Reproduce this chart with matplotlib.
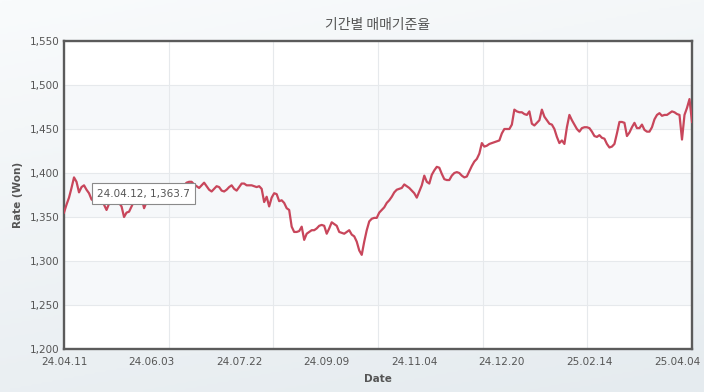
import numpy as np
import matplotlib
matplotlib.use('Agg')
import matplotlib.pyplot as plt
from matplotlib.colors import LinearSegmentedColormap

# 일별 매매기준율 (원/달러), 24.04.11 ~ 25.04.11 영업일 기준
rates = [
    1355, 1364, 1372, 1383, 1395, 1390, 1378, 1384, 1386, 1381,
    1377, 1370, 1368, 1372, 1366, 1370, 1364, 1358, 1365, 1371,
    1368, 1372, 1366, 1362, 1350, 1355, 1356, 1362, 1368, 1370,
    1366, 1372, 1360, 1367, 1370, 1373, 1376, 1378, 1375, 1380,
    1377, 1382, 1379, 1384, 1380, 1385, 1382, 1387, 1386, 1389,
    1390, 1390, 1387, 1385, 1383, 1386, 1389, 1385, 1381, 1379,
    1382, 1385, 1384, 1380, 1379, 1381, 1384, 1386, 1382, 1380,
    1384, 1388, 1388, 1386, 1386, 1386, 1385, 1384, 1385, 1382,
    1367, 1373, 1362, 1372, 1377, 1376, 1368, 1369, 1366, 1360,
    1358, 1339, 1333, 1333, 1334, 1339, 1324, 1331, 1333, 1335,
    1335, 1337, 1340, 1341, 1340, 1331, 1337, 1344, 1342, 1340,
    1333, 1332, 1331, 1333, 1335, 1330, 1328, 1322, 1312, 1307,
    1322, 1335, 1345, 1348, 1349, 1349, 1355, 1358, 1361, 1366,
    1369, 1373, 1378, 1381, 1382, 1383, 1387, 1385, 1383, 1380,
    1377, 1372, 1379, 1386, 1397, 1390, 1388, 1398, 1403, 1407,
    1406, 1399, 1393, 1392, 1392, 1397, 1400, 1401, 1400, 1397,
    1395, 1396, 1402, 1408, 1413, 1416, 1422, 1434, 1430, 1431,
    1433, 1434, 1435, 1436, 1437, 1445, 1450, 1450, 1450, 1455,
    1472, 1470, 1469, 1469, 1467, 1466, 1470, 1456, 1454, 1457,
    1460, 1472, 1464, 1460, 1456, 1455, 1450, 1441, 1434, 1437,
    1433, 1452, 1466, 1460, 1455, 1450, 1447, 1451, 1452, 1452,
    1451, 1447, 1442, 1441, 1443, 1440, 1439, 1433, 1429, 1430,
    1433, 1445, 1458, 1458, 1457, 1442, 1446, 1452, 1457, 1451,
    1451, 1455, 1449, 1447, 1447, 1452, 1461, 1466, 1468, 1465,
    1466, 1466, 1468, 1470, 1469, 1467, 1466, 1438, 1466, 1474,
    1484, 1458,
]
date_labels = ['24.04.11', '24.06.03', '24.07.22', '24.09.09',
               '24.11.04', '24.12.20', '25.02.14', '25.04.04']
label_step = 35
y_ticks = [1200, 1250, 1300, 1350, 1400, 1450, 1500, 1550]
tip_idx = 1
tip_text = '24.04.12, 1,363.7'

x = np.arange(len(rates))
txt = '#555555'

fig = plt.figure(figsize=(7.04, 3.92), dpi=100)

# 배경 그라데이션
bg = fig.add_axes([0, 0, 1, 1], zorder=-5)
gx, gy = np.meshgrid(np.linspace(0, 1, 200), np.linspace(0, 1, 200))
grad = 0.75 * gy + 0.25 * gx
cmap = LinearSegmentedColormap.from_list('bg', ['#f9fbfc', '#e5ebef'])
bg.imshow(grad, cmap=cmap, aspect='auto', extent=[0, 1, 0, 1], origin='upper')
bg.axis('off')

ax = fig.add_axes([64 / 704, 1 - 349 / 392, 628 / 704, 308 / 392])
ax.set_facecolor('white')

# 교대 배경 띠
for lo, hi in zip(y_ticks[1::2], y_ticks[2::2]):
    ax.axhspan(lo, hi, color='#f6f8fa', zorder=0, lw=0)

ax.plot(x, rates, color='#c8465b', lw=1.6, zorder=3)

ax.set_xlim(0, len(rates) - 1)
ax.set_ylim(y_ticks[0], y_ticks[-1])
ax.set_yticks(y_ticks)
ax.set_yticklabels([f'{v:,}' for v in y_ticks])
ax.set_xticks(np.arange(len(date_labels)) * label_step)
ax.set_xticklabels(date_labels)
ax.set_xticks(np.linspace(0, len(rates) - 1, 7), minor=True)

ax.grid(axis='y', color='#e6e9ec', lw=0.8, zorder=1)
ax.grid(axis='x', which='minor', color='#e6e9ec', lw=0.8, zorder=1)
ax.set_axisbelow(True)
ax.tick_params(which='both', length=0, labelsize=7.5, labelcolor=txt)
ax.tick_params(axis='x', pad=6)
ax.tick_params(axis='y', pad=3)
for s in ax.spines.values():
    s.set_color('#5b5b5b')
    s.set_linewidth(1.7)

ax.set_xlabel('Date', fontsize=7.5, fontweight='bold', color=txt, labelpad=5)
ax.set_ylabel('Rate (Won)', fontsize=7.5, fontweight='bold', color=txt, labelpad=5)
ax.set_title('기간별 매매기준율', fontsize=10, color=txt, pad=9,
             family=['Noto Sans CJK KR', 'DejaVu Sans'])

ax.annotate(tip_text, xy=(x[tip_idx], rates[tip_idx]), xytext=(22, 8),
            textcoords='offset points', ha='left', va='center',
            fontsize=7.5, color=txt, zorder=5,
            bbox=dict(boxstyle='square,pad=0.5', fc='white', ec='#8a8a8a', lw=0.8))

fig.savefig('out.png', dpi=100)
